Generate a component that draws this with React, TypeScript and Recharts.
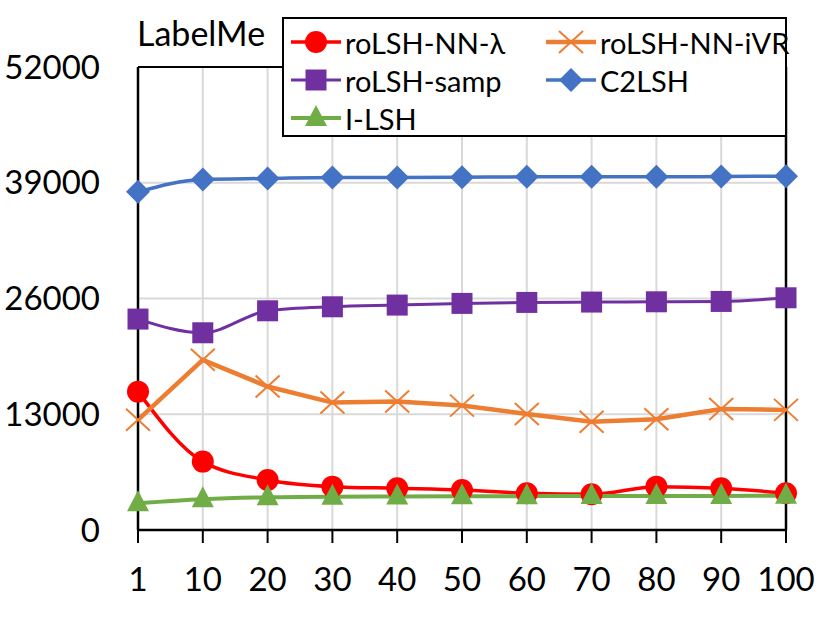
import React from 'react';
import {
  LineChart,
  Line,
  XAxis,
  YAxis,
  CartesianGrid,
  ReferenceLine,
  Legend
} from 'recharts';

const categories = ['1', '10', '20', '30', '40', '50', '60', '70', '80', '90', '100'];
const nnLambda = [15540, 7680, 5620, 4870, 4690, 4500, 4120, 4010, 4870, 4690, 4120];
const nnIvr = [12370, 19110, 16110, 14310, 14420, 13970, 13040, 12170, 12440, 13600, 13490];
const samp = [23690, 22150, 24620, 25070, 25260, 25450, 25560, 25600, 25630, 25670, 26080];
const c2lsh = [37980, 39370, 39480, 39590, 39600, 39620, 39660, 39660, 39660, 39700, 39740];
const ilsh = [3000, 3450, 3670, 3740, 3760, 3780, 3800, 3820, 3820, 3830, 3840];
const yTicks = [0, 13000, 26000, 39000, 52000];

const data = categories.map((c, i) => ({
  k: c,
  nnLambda: nnLambda[i],
  nnIvr: nnIvr[i],
  samp: samp[i],
  c2lsh: c2lsh[i],
  ilsh: ilsh[i]
}));

const FONT = 'Lato, "Open Sans", sans-serif';

type Shape = 'circle' | 'x' | 'square' | 'diamond' | 'triangle';

const drawMarker = (shape: Shape, cx: number, cy: number, color: string, key?: any) => {
  switch (shape) {
    case 'circle':
      return <circle key={key} cx={cx} cy={cy} r={11} fill={color} />;
    case 'x':
      return (
        <g key={key} stroke={color} strokeWidth={2}>
          <line x1={cx - 12} y1={cy - 11} x2={cx + 12} y2={cy + 11} />
          <line x1={cx - 12} y1={cy + 11} x2={cx + 12} y2={cy - 11} />
        </g>
      );
    case 'square':
      return <rect key={key} x={cx - 10.5} y={cy - 10.5} width={21} height={21} fill={color} />;
    case 'diamond':
      return (
        <polygon
          key={key}
          points={`${cx},${cy - 12} ${cx + 12},${cy} ${cx},${cy + 12} ${cx - 12},${cy}`}
          fill={color}
        />
      );
    case 'triangle':
      return (
        <polygon
          key={key}
          points={`${cx},${cy - 13} ${cx + 11},${cy + 8} ${cx - 11},${cy + 8}`}
          fill={color}
        />
      );
  }
  return null;
};

const dotFor = (shape: Shape, color: string) => (props: any) =>
  drawMarker(shape, props.cx, props.cy, color, `${shape}-${props.index}`);

const series = [
  { key: 'nnLambda', name: 'roLSH-NN-λ', color: '#FF0000', shape: 'circle' as Shape, width: 3.5, curve: 'monotone' },
  { key: 'nnIvr', name: 'roLSH-NN-iVR', color: '#ED7D31', shape: 'x' as Shape, width: 4.5, curve: 'linear' },
  { key: 'samp', name: 'roLSH-samp', color: '#7030A0', shape: 'square' as Shape, width: 3, curve: 'monotone' },
  { key: 'c2lsh', name: 'C2LSH', color: '#4472C4', shape: 'diamond' as Shape, width: 3.5, curve: 'monotone' },
  { key: 'ilsh', name: 'I-LSH', color: '#70AD47', shape: 'triangle' as Shape, width: 4, curve: 'monotone' }
];

const renderLegend = () => (
  <div
    style={{
      width: 501,
      height: 116,
      border: '2px solid #000',
      background: '#fff',
      position: 'relative',
      fontFamily: FONT,
      fontSize: 29,
      color: '#000'
    }}
  >
    {series.map((s, i) => {
      const col = i % 2;
      const row = Math.floor(i / 2);
      return (
        <div
          key={s.key}
          style={{
            position: 'absolute',
            left: col === 0 ? 5 : 260,
            top: 4 + row * 38,
            height: 38,
            display: 'flex',
            alignItems: 'center',
            whiteSpace: 'nowrap'
          }}
        >
          <svg width={54} height={30} style={{ marginRight: 2 }}>
            <line x1={2} y1={15} x2={52} y2={15} stroke={s.color} strokeWidth={s.width} />
            {drawMarker(s.shape, 27, 15, s.color)}
          </svg>
          <span>{s.name}</span>
        </div>
      );
    })}
  </div>
);

export default function App() {
  return (
    <div style={{ position: 'absolute', left: 0, top: 0, width: 831, height: 630, background: '#fff' }}>
      <LineChart
        width={831}
        height={630}
        data={data}
        margin={{ top: 67, right: 45, bottom: 40, left: 38 }}
      >
        <CartesianGrid stroke="#D9D9D9" strokeWidth={2} vertical horizontal />
        <XAxis
          dataKey="k"
          height={60}
          interval={0}
          axisLine={{ stroke: '#000', strokeWidth: 2.5 }}
          tickLine={{ stroke: '#000', strokeWidth: 2 }}
          tickSize={13}
          tickMargin={25}
          tick={{ fill: '#000', fontSize: 33, fontFamily: FONT }}
        />
        <YAxis
          width={100}
          domain={[0, 52000]}
          ticks={yTicks}
          interval={0}
          axisLine={{ stroke: '#000', strokeWidth: 2.5 }}
          tickLine={false}
          tickSize={8}
          tickMargin={30}
          tick={{ fill: '#000', fontSize: 33, fontFamily: FONT }}
        />
        <ReferenceLine y={52000} stroke="#000" strokeWidth={2} />
        <ReferenceLine x="100" stroke="#000" strokeWidth={2.5} />
        <Legend
          layout="vertical"
          align="center"
          verticalAlign="middle"
          content={renderLegend}
          wrapperStyle={{ left: 282, top: 17, width: 505, height: 120 }}
        />
        {series.map((s) => (
          <Line
            key={s.key}
            dataKey={s.key}
            name={s.name}
            type={s.curve as any}
            stroke={s.color}
            strokeWidth={s.width}
            dot={dotFor(s.shape, s.color)}
            activeDot={false}
            isAnimationActive={false}
          />
        ))}
      </LineChart>
      <div
        style={{
          position: 'absolute',
          left: 137,
          top: 12,
          fontFamily: FONT,
          fontSize: 34,
          color: '#000'
        }}
      >
        LabelMe
      </div>
    </div>
  );
}
